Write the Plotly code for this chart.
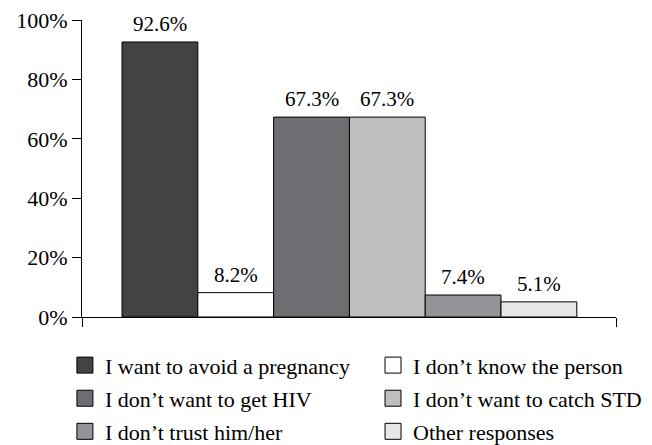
import plotly.graph_objects as go

categories = ["I want to avoid a pregnancy", "I don\u2019t know the person",
              "I don\u2019t want to get HIV", "I don\u2019t want to catch STD",
              "I don\u2019t trust him/her", "Other responses"]
values = [92.6, 8.2, 67.3, 67.3, 7.4, 5.1]
colors = ["#434345", "#ffffff", "#6d6e72", "#bdbec0", "#939497", "#e6e7e9"]
legend_column = ["legend", "legend2", "legend", "legend2", "legend", "legend2"]
ytick_vals = [0, 20, 40, 60, 80, 100]
ytick_text = ["0%", "20%", "40%", "60%", "80%", "100%"]

FONT = "Times New Roman"
fig = go.Figure()
for i, (c, v, col) in enumerate(zip(categories, values, colors)):
    fig.add_trace(go.Bar(x=[i], y=[v], width=1, marker=dict(color=col, line=dict(color="black", width=1)),
                         showlegend=False, hoverinfo="skip"))
for i, (c, col, lg) in enumerate(zip(categories, colors, legend_column)):
    fig.add_trace(go.Scatter(x=[None], y=[None], mode="markers", name=c, legend=lg, legendgroup=f"g{i}",
                             marker=dict(symbol="square", size=16, color=col, line=dict(color="black", width=1))))
for i, v in enumerate(values):
    fig.add_annotation(x=i, y=v, text=f"{v:.1f}%", showarrow=False, yanchor="bottom", yshift=4,
                       font=dict(family=FONT, size=21, color="black"))

legend_common = dict(orientation="v", yanchor="top", y=-0.092, xanchor="left", itemsizing="trace",
                     tracegroupgap=1.5, bgcolor="rgba(0,0,0,0)",
                     font=dict(family=FONT, size=22, color="black"))
fig.update_layout(
    width=644, height=437, barmode="overlay", plot_bgcolor="white", paper_bgcolor="white",
    margin=dict(l=74, r=36, t=12, b=128, autoexpand=False),
    font=dict(family=FONT, size=22, color="black"),
    legend=dict(x=-0.032, **legend_common),
    legend2=dict(x=0.545, **legend_common),
)
fig.update_xaxes(range=[-1.028, 6.017], showline=True, linecolor="black", linewidth=1,
                 tickvals=[-1.028, 6.017], ticks="outside", ticklen=9, tickcolor="black",
                 showticklabels=False, showgrid=False, zeroline=False)
fig.update_yaxes(range=[0, 100], showline=True, linecolor="black", linewidth=1,
                 tickvals=ytick_vals, ticktext=ytick_text, ticks="outside", ticklen=9,
                 tickcolor="black", showgrid=False, zeroline=False, ticklabeloverflow="allow",
                 tickfont=dict(family=FONT, size=22, color="black"))
fig.write_html("out.html")
